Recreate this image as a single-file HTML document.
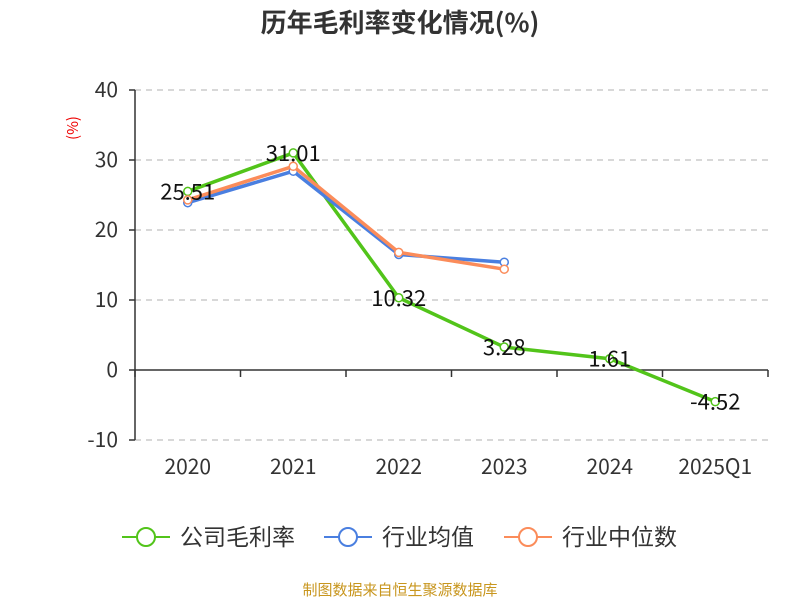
<!DOCTYPE html>
<html><head><meta charset="utf-8"><style>
body{margin:0;background:#fff;font-family:"Noto Sans CJK SC","Liberation Sans",sans-serif;}
svg text{font-family:"Noto Sans CJK SC","Liberation Sans",sans-serif;}
</style></head><body>
<svg id="c" width="800" height="600" xmlns="http://www.w3.org/2000/svg">
<text x="400" y="32" text-anchor="middle" font-size="26" font-weight="bold" fill="#333">历年毛利率变化情况(%)</text>
<text x="78" y="128" text-anchor="middle" font-size="15" fill="#e00" transform="rotate(-90 78 128)">(%)</text>
<g id="grid"></g><g id="axes"></g><g id="series"></g>
<g font-size="23" fill="#333">
 <g><line x1="122" y1="537" x2="170" y2="537" stroke="#52c41a" stroke-width="2"/><circle cx="146" cy="537" r="9" fill="#fff" stroke="#52c41a" stroke-width="2"/><text x="180" y="545">公司毛利率</text></g>
 <g><line x1="324" y1="537" x2="372" y2="537" stroke="#4a7fe0" stroke-width="2"/><circle cx="348" cy="537" r="9" fill="#fff" stroke="#4a7fe0" stroke-width="2"/><text x="382" y="545">行业均值</text></g>
 <g><line x1="504" y1="537" x2="552" y2="537" stroke="#fb8c5a" stroke-width="2"/><circle cx="528" cy="537" r="9" fill="#fff" stroke="#fb8c5a" stroke-width="2"/><text x="562" y="545">行业中位数</text></g>
</g>
<text x="400" y="595" text-anchor="middle" font-size="15" fill="#c8961e">制图数据来自恒生聚源数据库</text>
</svg>
<script>
const categories=["2020","2021","2022","2023","2024","2025Q1"];
const company=[25.51,31.01,10.32,3.28,1.61,-4.52];
const industryAvg=[23.9,28.4,16.5,15.4,null,null];
const industryMedian=[24.3,29.1,16.8,14.4,null,null];
const yTicks=[-10,0,10,20,30,40];
const NS="http://www.w3.org/2000/svg";
const x0=135,x1=768,step=(x1-x0)/categories.length;
const xs=i=>x0+step*(i+0.5);
const ys=v=>370-v*7;
function mk(t,a,p){const e=document.createElementNS(NS,t);for(const k in a)e.setAttribute(k,a[k]);p.appendChild(e);return e;}
const grid=document.getElementById('grid'),axes=document.getElementById('axes'),ser=document.getElementById('series');
yTicks.forEach(v=>{
 if(v!==0){const l=mk('line',{x1:x0,x2:x1,y1:ys(v),y2:ys(v),stroke:'#ccc','stroke-dasharray':'6,5','stroke-width':1.5},grid);
 }
 const t=mk('text',{x:118,y:ys(v)+7,'text-anchor':'end','font-size':21,fill:'#333'},axes);t.textContent=v;
 
 mk('line',{x1:x0-6,x2:x0,y1:ys(v),y2:ys(v),stroke:'#333','stroke-width':1.5},axes);
});
const ya=mk('line',{x1:x0,x2:x0,y1:ys(40),y2:ys(-10),stroke:'#333','stroke-width':1.5},axes);

const xa=mk('line',{x1:x0,x2:x1,y1:ys(0),y2:ys(0),stroke:'#333','stroke-width':1.5},axes);

for(let i=0;i<=categories.length;i++)mk('line',{x1:x0+step*i,x2:x0+step*i,y1:ys(0),y2:ys(0)+7,stroke:'#333','stroke-width':1.5},axes);
categories.forEach((c,i)=>{const t=mk('text',{x:xs(i),y:474,'text-anchor':'middle','font-size':21,fill:'#333'},axes);t.textContent=c;
 });
function series(vals,color,name){
 const pts=vals.map((v,i)=>v==null?null:[xs(i),ys(v)]).filter(p=>p);
 const pl=mk('polyline',{points:pts.map(p=>p.join(',')).join(' '),fill:'none',stroke:color,'stroke-width':3.5,'stroke-linejoin':'round'},ser);
 
 vals.forEach((v,i)=>{if(v==null)return;
  const c=mk('circle',{cx:xs(i),cy:ys(v),r:4,fill:'#fff',stroke:color,'stroke-width':1.5},ser);
  
 });
}
series(company,'#52c41a','company');
series(industryAvg,'#4a7fe0','industry-avg');
series(industryMedian,'#fb8c5a','industry-median');
company.forEach((v,i)=>{const t=mk('text',{x:xs(i),y:ys(v)+8,'text-anchor':'middle','font-size':22,fill:'#111'},ser);t.textContent=v.toFixed(2);
 });
</script>
</body></html>
